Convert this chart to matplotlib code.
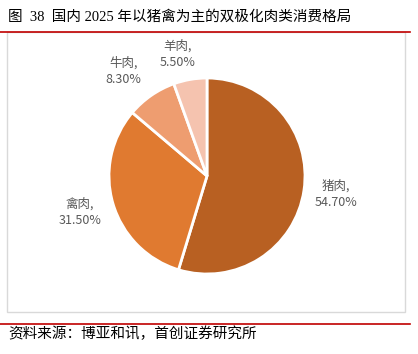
import matplotlib
matplotlib.use("Agg")
import numpy as np
import matplotlib.pyplot as plt
from matplotlib.patches import Rectangle
from matplotlib.lines import Line2D

plt.rcParams['font.family'] = ['Noto Sans CJK SC', 'DejaVu Sans']

# data
meats = ['猪肉', '禽肉', '牛肉', '羊肉']
shares = [54.70, 31.50, 8.30, 5.50]
colors = ['#B86022', '#E07A30', '#EE9D70', '#F5C3AF']

title = '图  38  国内 2025 年以猪禽为主的双极化肉类消费格局'
source = '资料来源：博亚和讯，首创证券研究所'

# label placement (distance in radii, angle shift in degrees)
label_dist = [1.33, 1.35, 1.37, 1.28]
label_shift = [0.6, -0.6, 3.9, 3.9]

W, H = 418, 354
fig = plt.figure(figsize=(W / 100, H / 100), dpi=100)

# pie centre and radius in pixels
cx, cy, r = 207, 176, 98
span = 1.5
ax = fig.add_axes([(cx - r * span) / W, (H - cy - r * span) / H,
                   2 * r * span / W, 2 * r * span / H])

labels = ['{},\n{:.2f}%'.format(m, s) for m, s in zip(meats, shares)]
wedges, texts = ax.pie(shares, colors=colors, startangle=90, counterclock=False,
                       labels=labels, labeldistance=1.35,
                       wedgeprops=dict(edgecolor='white', linewidth=2))
for w, t, d, s in zip(wedges, texts, label_dist, label_shift):
    ang = np.deg2rad((w.theta1 + w.theta2) / 2 + s)
    t.set_position((d * np.cos(ang), d * np.sin(ang)))
    t.set_ha('center')
    t.set_va('center')
    t.set_color('#595959')
    t.set_fontsize(9)
    t.set_linespacing(1.3)
ax.set_xlim(-span, span)
ax.set_ylim(-span, span)
ax.set_aspect('equal')
ax.axis('off')

# frame and rules
fig.patches.append(Rectangle((7 / W, (H - 312) / H), 398 / W, 280 / H,
                             transform=fig.transFigure, fill=False,
                             edgecolor='#D9D9D9', linewidth=1))
fig.lines.append(Line2D([0, 410 / W], [(H - 32) / H] * 2, transform=fig.transFigure,
                        color='#C00000', linewidth=1.2))
fig.lines.append(Line2D([0, 410 / W], [(H - 324) / H] * 2, transform=fig.transFigure,
                        color='#C00000', linewidth=1.2))

fig.text(8 / W, (H - 17) / H, title, fontsize=10.5, va='center', ha='left',
         color='#000000', family=['Liberation Serif', 'Noto Sans CJK SC'])
fig.text(8 / W, (H - 334) / H, source, fontsize=10.5, va='center', ha='left',
         style='italic', color='#000000')

fig.savefig('out.png', dpi=100)
